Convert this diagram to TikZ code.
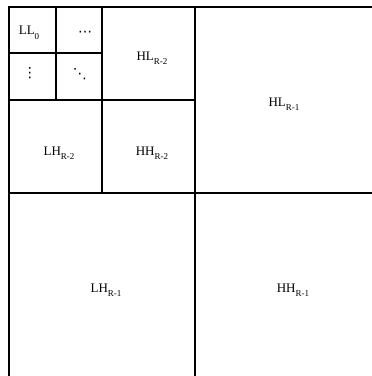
\documentclass[tikz,border=0pt]{standalone}
\usepackage{fontspec}
\setmainfont{Liberation Serif}
\newfontfamily\dotsfont{DejaVu Sans}
% lowered subscript in text font
\newcommand{\bandsub}[1]{\raisebox{-4.5pt}{\fontsize{9}{10}\selectfont #1}}
\begin{document}
\begin{tikzpicture}[x=1pt,y=-1pt,
  band/.style={font=\fontsize{13}{15}\selectfont, inner sep=0pt},
  dotmark/.style={font=\dotsfont\fontsize{14}{16}\selectfont, inner sep=0pt},
  outer/.style={line width=2.8pt},
  mid/.style={line width=2.2pt},
  fine/.style={line width=1.3pt}]
  \useasboundingbox (0,0) rectangle (372,376);
  \clip (0,0) rectangle (372,376);
  % level R-1
  \draw[outer] (9,7) rectangle (381,379);
  \draw[outer] (195,7) -- (195,379);
  \draw[outer] (9,193) -- (381,193);
  % level R-2
  \draw[mid] (102,7) -- (102,193);
  \draw[mid] (9,100) -- (195,100);
  % level 0
  \draw[fine] (56,7) -- (56,100);
  \draw[fine] (9,53) -- (102,53);
  % labels
  \node[band] (ll0) at (29,33) {LL\bandsub{0}};
  \node[dotmark] (hdots) at (85,34) {⋯};
  \node[dotmark] (vdots) at (30,73) {⋮};
  \node[dotmark] (ddots) at (80,74) {⋱};
  \node[band] (hl2) at (152,58) {HL\bandsub{R-2}};
  \node[band] (lh2) at (59,153) {LH\bandsub{R-2}};
  \node[band] (hh2) at (152,153) {HH\bandsub{R-2}};
  \node[band] (hl1) at (284,104) {HL\bandsub{R-1}};
  \node[band] (lh1) at (106,290) {LH\bandsub{R-1}};
  \node[band] (hh1) at (293,290) {HH\bandsub{R-1}};
\end{tikzpicture}
\end{document}
